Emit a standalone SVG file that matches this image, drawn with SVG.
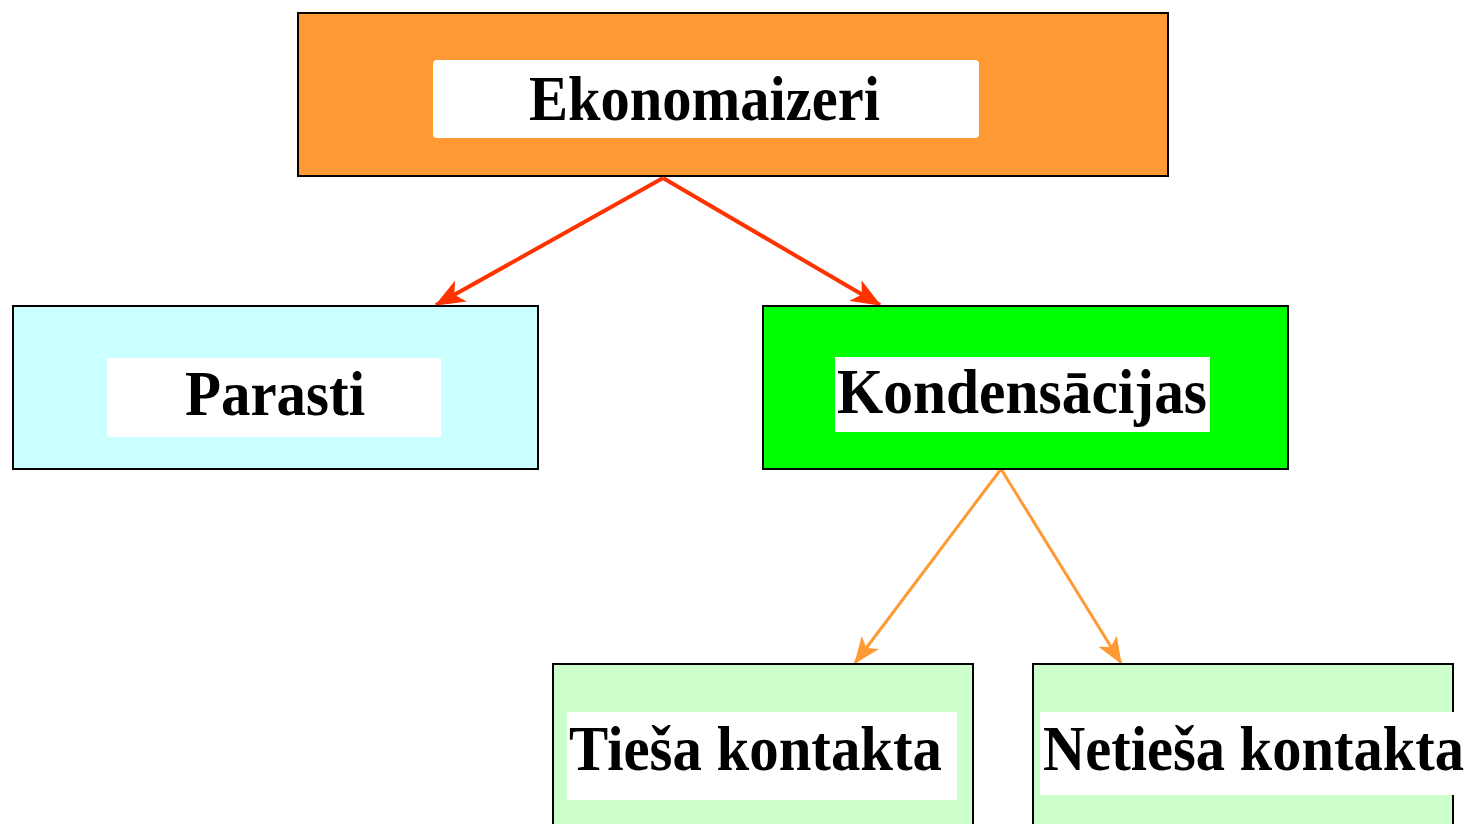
<svg xmlns="http://www.w3.org/2000/svg" width="1478" height="824" viewBox="0 0 1478 824">
<style>
.box{stroke:#000;stroke-width:2}
.bg{fill:#fff}
.t{font-family:"Liberation Serif","Times New Roman",serif;font-weight:bold;font-size:64px;fill:#000}
.red{stroke:#FF3300;stroke-width:4;fill:none}
.org{stroke:#FF9933;stroke-width:3;fill:none}
</style>
<defs>
<marker id="ar" viewBox="0 0 20 16" refX="19" refY="8" markerWidth="7.5" markerHeight="6" orient="auto" markerUnits="strokeWidth">
<path d="M0,0 L20,8 L0,16 L5,8 Z" fill="#FF3300"/>
</marker>
<marker id="ao" viewBox="0 0 20 16" refX="19" refY="8" markerWidth="9" markerHeight="7.2" orient="auto" markerUnits="strokeWidth">
<path d="M0,0 L20,8 L0,16 L5,8 Z" fill="#FF9933"/>
</marker>
</defs>
<rect width="1478" height="824" fill="#fff"/>
<g id="connectors">
<line class="red" x1="663" y1="178" x2="436" y2="305" marker-end="url(#ar)"/>
<line class="red" x1="663" y1="178" x2="880" y2="305" marker-end="url(#ar)"/>
<line class="org" x1="1001" y1="469" x2="855" y2="663" marker-end="url(#ao)"/>
<line class="org" x1="1001" y1="469" x2="1121" y2="663" marker-end="url(#ao)"/>
</g>
<g id="ekonomaizeri">
<rect class="box" x="298" y="13" width="870" height="163" fill="#FF9933"/>
<rect class="bg" x="433" y="60" width="546" height="78" rx="4"/>
<text class="t" x="529" y="120" textLength="351" lengthAdjust="spacingAndGlyphs">Ekonomaizeri</text>
</g>
<g id="parasti">
<rect class="box" x="13" y="306" width="525" height="163" fill="#CCFFFF"/>
<rect class="bg" x="107" y="358" width="334" height="79"/>
<text class="t" x="185" y="415" textLength="180" lengthAdjust="spacingAndGlyphs">Parasti</text>
</g>
<g id="kondensacijas">
<rect class="box" x="763" y="306" width="525" height="163" fill="#00FF00"/>
<rect class="bg" x="835" y="357" width="375" height="75"/>
<text class="t" x="837" y="413" textLength="370" lengthAdjust="spacingAndGlyphs">Kondensācijas</text>
</g>
<g id="tiesa">
<rect class="box" x="553" y="664" width="420" height="170" fill="#CCFFCC"/>
<rect class="bg" x="567" y="712" width="390" height="88"/>
<text class="t" x="569" y="770" textLength="373" lengthAdjust="spacingAndGlyphs">Tieša kontakta</text>
</g>
<g id="netiesa">
<rect class="box" x="1033" y="664" width="420" height="170" fill="#CCFFCC"/>
<rect class="bg" x="1040" y="712" width="438" height="83"/>
<text class="t" x="1043" y="770" textLength="421" lengthAdjust="spacingAndGlyphs">Netieša kontakta</text>
</g>
</svg>
